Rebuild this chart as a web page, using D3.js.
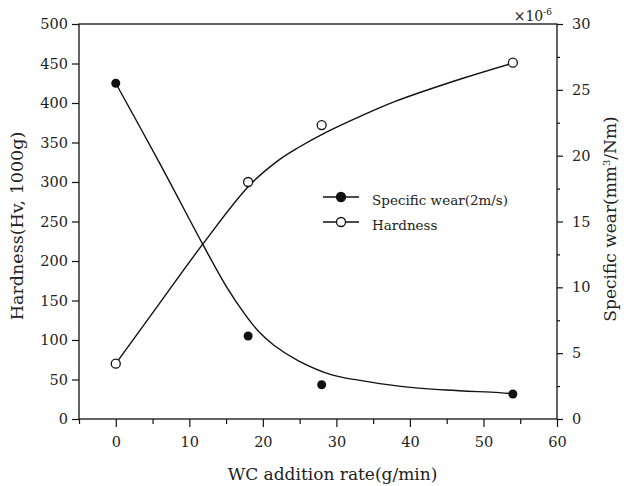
<!DOCTYPE html>
<html>
<head>
<meta charset="utf-8">
<script src="https://cdn.jsdelivr.net/npm/d3@7"></script>
<style>
  body { margin: 0; background: #fff; }
</style>
</head>
<body>
<div id="chart"></div>
<script>
// measured points
let rateX = [0, 18, 28, 54];
let wearPts = [25.5, 6.3, 2.6, 1.9];         // x10^-6 mm3/Nm
let hardPts = [70, 300, 372, 451];           // Hv

// fitted curves as drawn in the figure
let wearCurveX = [0, 6, 11.8, 15, 17.5, 19.5, 21.5, 24.9, 29.4, 33, 38.5, 45, 52.1, 53.9];
let wearCurveY = [25.5, 19.4, 13.3, 10.1, 8.0, 6.6, 5.6, 4.4, 3.35, 2.95, 2.5, 2.2, 2.0, 1.92];
let hardCurveX = [0, 6, 11.8, 18.1, 22.2, 24.9, 28, 33, 38, 47.1, 53.8];
let hardCurveY = [70, 147, 221, 295, 328, 344, 360, 382, 402, 431, 450];

let xTicks = [0, 10, 20, 30, 40, 50, 60];
let leftTicks = [0, 50, 100, 150, 200, 250, 300, 350, 400, 450, 500];
let rightTicks = [0, 5, 10, 15, 20, 25, 30];

let font = "'DejaVu Serif', 'Liberation Serif', serif";

// set the dimensions and margins of the graph
let margin = {top: 24, right: 73, bottom: 67, left: 79},
    width = 630 - margin.left - margin.right,
    height = 486 - margin.top - margin.bottom;

let svg = d3.select("#chart")
    .append("svg")
    .attr("width", 630)
    .attr("height", 486)
    .append("g")
    .attr("transform", "translate(" + margin.left + "," + margin.top + ")");

let x = d3.scaleLinear().domain([-5, 60]).range([0, width]);
let yL = d3.scaleLinear().domain([0, 500]).range([height, 0]);
let yR = d3.scaleLinear().domain([0, 30]).range([height, 0]);

// frame
svg.append("rect")
    .attr("width", width).attr("height", height)
    .attr("fill", "none").attr("stroke", "#111").attr("stroke-width", 1.3);

// bottom axis: major ticks at 10, minor at 5
svg.append("g")
    .attr("transform", "translate(0," + height + ")")
    .call(d3.axisBottom(x).tickValues(xTicks).tickSize(8).tickSizeOuter(0).tickPadding(10).tickFormat(d3.format("d")));
svg.append("g")
    .attr("transform", "translate(0," + height + ")")
    .call(d3.axisBottom(x).tickValues(d3.range(-5, 60, 10)).tickSize(5).tickSizeOuter(0).tickFormat(""));

// left axis
svg.append("g")
    .call(d3.axisLeft(yL).tickValues(leftTicks).tickSize(7).tickSizeOuter(0).tickPadding(4));

// right axis
svg.append("g")
    .attr("transform", "translate(" + width + ",0)")
    .call(d3.axisRight(yR).tickValues(rightTicks).tickSize(6).tickSizeOuter(0).tickPadding(9));
svg.append("g")
    .attr("transform", "translate(" + width + ",0)")
    .call(d3.axisRight(yR).tickValues(d3.range(2.5, 30, 5)).tickSize(3).tickSizeOuter(0).tickFormat(""));

svg.selectAll(".domain").remove();
svg.selectAll(".tick line").attr("stroke", "#111").attr("stroke-width", 1.2);
svg.selectAll(".tick text").style("font-size", "14.5px").attr("fill", "#222");

// x10^-6 marker
let mult = svg.append("text")
    .attr("x", width - 5)
    .attr("y", -3)
    .attr("text-anchor", "end")
    .style("font-size", "14px");
mult.append("tspan").text("×10");
mult.append("tspan").attr("dy", -6).style("font-size", "9px").text("-6");

// axis labels
svg.append("text")
    .attr("x", 253.5)
    .attr("y", height + 61)
    .attr("text-anchor", "middle")
    .style("font-size", "17px")
    .text("WC addition rate(g/min)");

svg.append("text")
    .attr("transform", "rotate(-90)")
    .attr("x", -202)
    .attr("y", -56)
    .attr("text-anchor", "middle")
    .style("font-size", "17.5px")
    .text("Hardness(Hv, 1000g)");

let rl = svg.append("text")
    .attr("transform", "rotate(-90)")
    .attr("x", -195)
    .attr("y", width + 59)
    .attr("text-anchor", "middle")
    .style("font-size", "17px");
rl.append("tspan").text("Specific wear(mm");
rl.append("tspan").attr("dy", -6).style("font-size", "10px").text("3");
rl.append("tspan").attr("dy", 6).text("/Nm)");

// curves
let wearLine = d3.line()
    .x(function(d) { return x(d[0]); })
    .y(function(d) { return yR(d[1]); })
    .curve(d3.curveCatmullRom);
let hardLine = d3.line()
    .x(function(d) { return x(d[0]); })
    .y(function(d) { return yL(d[1]); })
    .curve(d3.curveCatmullRom);

svg.append("path")
    .datum(d3.zip(wearCurveX, wearCurveY))
    .attr("fill", "none").attr("stroke", "#111").attr("stroke-width", 1.4)
    .attr("d", wearLine);
svg.append("path")
    .datum(d3.zip(hardCurveX, hardCurveY))
    .attr("fill", "none").attr("stroke", "#111").attr("stroke-width", 1.4)
    .attr("d", hardLine);

// markers
svg.selectAll(".wear")
    .data(d3.zip(rateX, wearPts))
    .enter().append("circle")
    .attr("class", "wear")
    .attr("cx", function(d) { return x(d[0]); })
    .attr("cy", function(d) { return yR(d[1]); })
    .attr("r", 4.5)
    .attr("fill", "#111");
svg.selectAll(".hard")
    .data(d3.zip(rateX, hardPts))
    .enter().append("circle")
    .attr("class", "hard")
    .attr("cx", function(d) { return x(d[0]); })
    .attr("cy", function(d) { return yL(d[1]); })
    .attr("r", 4.5)
    .attr("fill", "#fff").attr("stroke", "#111").attr("stroke-width", 1.3);

// legend
let legend = [{name: "Specific wear(2m/s)", fill: "#111", y: 173},
              {name: "Hardness", fill: "#fff", y: 198}];
let lg = svg.selectAll(".lg").data(legend).enter().append("g")
    .attr("transform", function(d) { return "translate(244," + d.y + ")"; });
lg.append("line").attr("x1", 0).attr("x2", 36).attr("stroke", "#111").attr("stroke-width", 1.4);
lg.append("circle").attr("cx", 18).attr("r", 4.5)
    .attr("fill", function(d) { return d.fill; })
    .attr("stroke", "#111").attr("stroke-width", 1.3);
lg.append("text").attr("x", 49).attr("y", 8)
    .style("font-size", "13.5px")
    .text(function(d) { return d.name; });

svg.selectAll("text").style("font-family", font).attr("fill", "#222");
</script>
</body>
</html>
